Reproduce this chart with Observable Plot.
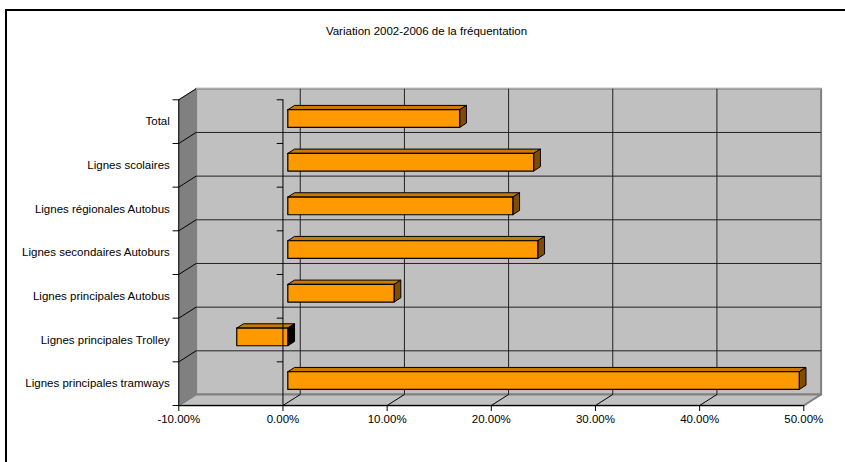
<!DOCTYPE html>
<html lang="fr">
<head>
<meta charset="utf-8">
<script src="https://cdn.jsdelivr.net/npm/d3@7"></script>
<script src="https://cdn.jsdelivr.net/npm/@observablehq/plot@0.6"></script>
<style>
  html, body { margin: 0; padding: 0; background: #fff; overflow: hidden; }
  #frame { position: absolute; left: 5px; top: 9px; right: 0; bottom: 0;
           border-left: 2px solid #000; border-top: 2px solid #000; }
  #chart { position: absolute; left: 0; top: 0; }
  #chart svg { font-family: "Liberation Sans", Arial, sans-serif; background: transparent; }
</style>
</head>
<body>
<div id="frame"></div>
<div id="chart"></div>
<script>
const chartTitle = "Variation 2002-2006 de la fréquentation";
const categories = [
  "Total",
  "Lignes scolaires",
  "Lignes régionales Autobus",
  "Lignes secondaires Autoburs",
  "Lignes principales Autobus",
  "Lignes principales Trolley",
  "Lignes principales tramways"
];
const values = [16.5, 23.6, 21.6, 24.0, 10.2, -4.9, 49.1];
const xTicks = [-10, 0, 10, 20, 30, 40, 50];

// Oblique projection of the chart box, in scale units.
const depthX = 1.66;
const depthY = 0.252;
const barFront = 0.28;
const barBack = 0.67;
const barHeight = 0.405;
const tickLength = 0.6;

const n = categories.length;
const bands = d3.range(n + 1);
const at = (x, y, d) => ({x: x + d * depthX, y: y - d * depthY});
const polygon = (id, corners) =>
  [...corners, corners[0]].map(([x, y, d]) => ({id, ...at(x, y, d)}));

const xMin = xTicks[0];
const xMax = xTicks[xTicks.length - 1];

const backWall = polygon("back", [[xMin, 0, 1], [xMax, 0, 1], [xMax, n, 1], [xMin, n, 1]]);
const sideWall = polygon("side", [[xMin, 0, 0], [xMin, 0, 1], [xMin, n, 1], [xMin, n, 0]]);
const floor = polygon("floor", [[xMin, n, 0], [xMax, n, 0], [xMax, n, 1], [xMin, n, 1]]);

const bars = values.map((v, i) => ({
  v,
  x0: Math.min(0, v),
  x1: Math.max(0, v),
  top: i + 0.5 - barHeight / 2,
  bottom: i + 0.5 + barHeight / 2
}));
const frontFaces = bars.flatMap((b, i) => polygon(i, [
  [b.x0, b.top, barFront], [b.x1, b.top, barFront], [b.x1, b.bottom, barFront], [b.x0, b.bottom, barFront]]));
const topFaces = bars.flatMap((b, i) => polygon(i, [
  [b.x0, b.top, barFront], [b.x1, b.top, barFront], [b.x1, b.top, barBack], [b.x0, b.top, barBack]]));
const endFace = (b, i) => polygon(i, [
  [b.x1, b.top, barFront], [b.x1, b.bottom, barFront], [b.x1, b.bottom, barBack], [b.x1, b.top, barBack]]);
const endFaces = bars.filter(b => b.v >= 0).flatMap(endFace);
const negativeEndFaces = bars.filter(b => b.v < 0).flatMap(endFace);

const face = (data, fill, stroke = "#000", strokeWidth = 1) =>
  Plot.line(data, {x: "x", y: "y", z: "id", fill, stroke, strokeWidth, curve: "linear"});

const chart = Plot.plot({
  width: 845,
  height: 462,
  marginLeft: 178.3,
  marginRight: 41.7,
  marginTop: 99.3,
  marginBottom: 57,
  style: {background: "transparent"},
  x: {domain: [xMin, xMax], label: null},
  y: {domain: [0, n], reverse: true, label: null},
  marks: [
    // Box walls
    face(backWall, "#c0c0c0", "#808080", 2),
    face(sideWall, "#808080", "#808080", 1),
    face(floor, "#c0c0c0", "#808080", 2),
    Plot.link([0], {x1: xMin + depthX, x2: xMax + depthX, y1: -depthY, y2: -depthY, stroke: "#a8a8a8", strokeWidth: 1.5}),

    // Grid on the back wall, the side wall and the floor
    Plot.link(xTicks.slice(1, -1), {x1: d => d + depthX, x2: d => d + depthX, y1: -depthY, y2: n - depthY, stroke: "#222", strokeWidth: 1}),
    Plot.link(bands.slice(1, -1), {x1: xMin + depthX, x2: xMax + depthX, y1: d => d - depthY, y2: d => d - depthY, stroke: "#222", strokeWidth: 1}),
    Plot.link(bands.slice(0, -1), {x1: xMin, x2: xMin + depthX, y1: d => d, y2: d => d - depthY, stroke: "#000", strokeWidth: 1}),
    Plot.link(xTicks, {x1: d => d, x2: d => d + depthX, y1: n, y2: n - depthY, stroke: d => d === xMin || d === xMax ? "#808080" : "#000", strokeWidth: 1}),

    // Bars
    face(topFaces, "#c97a00"),
    face(endFaces, "#7f4c00"),
    face(negativeEndFaces, "#000"),
    face(frontFaces, "#ff9900", "#000", 1.2),

    // Axis lines and their ticks, both at the chart edge and at zero
    Plot.ruleX([xMin, 0], {y1: 0, y2: n, stroke: "#000", strokeWidth: 1}),
    Plot.ruleY([n], {x1: xMin, x2: xMax, stroke: "#000", strokeWidth: 1}),
    Plot.link(bands, {x1: xMin - tickLength, x2: xMin, y1: d => d, y2: d => d, stroke: "#000", strokeWidth: 1}),
    Plot.link(bands.slice(0, -1), {x1: -tickLength, x2: 0, y1: d => d, y2: d => d, stroke: "#000", strokeWidth: 1}),

    // Tick labels
    Plot.axisX({
      ticks: xTicks,
      tickFormat: d => d.toFixed(2) + "%",
      tickSize: 6,
      tickPadding: 3,
      fontSize: 11.5,
      label: null,
      fill: "#000"
    }),
    Plot.axisY({
      ticks: categories.map((c, i) => i + 0.5),
      tickFormat: d => categories[Math.floor(d)],
      tickSize: 0,
      tickPadding: 9,
      fontSize: 11.5,
      label: null,
      fill: "#000"
    }),

    // Title
    Plot.text([chartTitle], {
      frameAnchor: "top-left",
      dx: 247.7,
      dy: -65,
      lineAnchor: "bottom",
      textAnchor: "middle",
      fontSize: 11.5,
      fill: "#000"
    })
  ]
});
document.getElementById("chart").append(chart);
</script>
</body>
</html>
